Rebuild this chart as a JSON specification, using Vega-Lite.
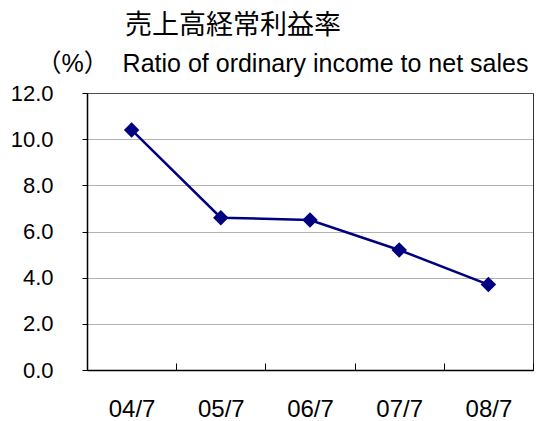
{
  "$schema": "https://vega.github.io/schema/vega-lite/v6.json",
  "width": 446,
  "height": 277,
  "autosize": {"type": "none"},
  "padding": {"left": 87, "top": 93, "right": 5, "bottom": 51},
  "background": "white",
  "title": {
    "text": "売上高経常利益率",
    "font": "Noto Sans CJK JP",
    "fontSize": 27,
    "fontWeight": "normal",
    "color": "#000",
    "anchor": "start",
    "frame": "group",
    "dx": 38,
    "offset": 11
  },
  "config": {
    "view": {"stroke": "#333", "strokeWidth": 1},
    "axis": {"labelFont": "Liberation Sans", "labelColor": "#000"}
  },
  "data": {
    "values": [
      {"period": "04/7", "value": 10.4},
      {"period": "05/7", "value": 6.6},
      {"period": "06/7", "value": 6.5},
      {"period": "07/7", "value": 5.2},
      {"period": "08/7", "value": 3.7}
    ]
  },
  "encoding": {
    "x": {
      "field": "period",
      "type": "ordinal",
      "scale": {"type": "band", "paddingInner": 0, "paddingOuter": 0},
      "axis": {
        "title": null,
        "labelAngle": 0,
        "labelFontSize": 24,
        "labelPadding": 34,
        "tickBand": "extent",
        "tickSize": -7,
        "tickColor": "#000",
        "domainColor": "#000",
        "domainWidth": 1.5,
        "grid": false
      }
    },
    "y": {
      "field": "value",
      "type": "quantitative",
      "scale": {"domain": [0, 12], "nice": false, "zero": true},
      "axis": {
        "values": [0, 2, 4, 6, 8, 10, 12],
        "format": ".1f",
        "labelFontSize": 22,
        "labelPadding": 29,
        "tickSize": 5,
        "tickColor": "#000",
        "domainColor": "#000",
        "domainWidth": 1.5,
        "grid": true,
        "gridColor": "#666",
        "gridDash": [1, 1],
        "gridWidth": 1,
        "title": "（%）\u00a0\u00a0Ratio of ordinary income to net sales",
        "titleFont": "Liberation Sans, Noto Sans CJK JP",
        "titleFontSize": 25,
        "titleFontWeight": "normal",
        "titleColor": "#000",
        "titleAngle": 0,
        "titleAlign": "left",
        "titleBaseline": "middle",
        "titleX": -51,
        "titleY": -30
      }
    }
  },
  "layer": [
    {"mark": {"type": "line", "color": "#000080", "strokeWidth": 2.5}},
    {"mark": {"type": "point", "shape": "diamond", "filled": true, "opacity": 1, "color": "#000080", "size": 240}}
  ]
}
